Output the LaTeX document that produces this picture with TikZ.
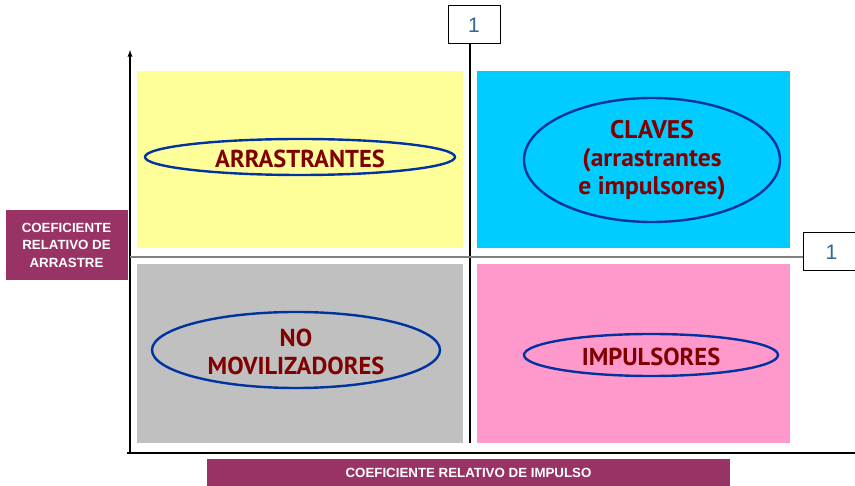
\documentclass[tikz,border=0pt]{standalone}
\usepackage{fontspec}
\setmainfont{Liberation Sans}
\newfontfamily\ellfont{PT Sans}
\definecolor{plum}{HTML}{993366}
\definecolor{ylw}{HTML}{FFFF99}
\definecolor{cyn}{HTML}{00CCFF}
\definecolor{gry}{HTML}{C0C0C0}
\definecolor{pnk}{HTML}{FF99CC}
\definecolor{ellblue}{HTML}{0033A0}
\definecolor{darkred}{HTML}{800000}
\definecolor{numblue}{HTML}{336699}
\begin{document}
\begin{tikzpicture}[x=1pt,y=-1pt,
  etext/.style={text=darkred,font=\ellfont\bfseries\fontsize{24.5}{27.5}\selectfont,align=center},
  numbox/.style={draw=black,line width=1pt,fill=white,text=numblue,font=\fontsize{21}{24}\selectfont,inner sep=0pt},
  lbl/.style={fill=plum,text=white,font=\bfseries\fontsize{13.3}{17.5}\selectfont,align=center,inner sep=0pt},
  ellline/.style={ellblue,line width=2.4pt}]
\useasboundingbox (0,0) rectangle (855,486);
% quadrants
\fill[ylw] (137,71) rectangle (463,248);
\fill[cyn] (477,71) rectangle (790,248);
\fill[gry] (137,264) rectangle (463,443);
\fill[pnk] (477,264) rectangle (790,443);
% number boxes
\node[numbox,minimum width=52pt,minimum height=38pt] (n1) at (474,25) {1};
\node[numbox,minimum width=56pt,minimum height=38pt,anchor=west] (n2) at (803,252) {1};
% axes
\coordinate (yb) at (130,453);
\coordinate (yt) at (130,50);
\coordinate (xl) at (127,453);
\coordinate (xr) at (855,453);
\draw[line width=1.3pt,-latex] (yb) -- (yt);
\draw[line width=1.3pt] (xl) -- (xr);
\coordinate (vb) at (470,443);
\draw[line width=1.3pt] (n1.south -| vb) -- (vb);
\coordinate (hl) at (130,257);
\draw[line width=2pt,gray] (hl) -- (hl -| n2.west);
% ellipses
\draw[ellline] (300,157) ellipse [x radius=155, y radius=18];
\node[etext] (a) at (300,159) {ARRASTRANTES};
\draw[ellline] (652,160) ellipse [x radius=128, y radius=62];
\node[etext,font=\ellfont\bfseries\fontsize{25.5}{28}\selectfont] (c) at (652,160) {CLAVES\\(arrastrantes\\e impulsores)};
\draw[ellline] (296,350) ellipse [x radius=144, y radius=38];
\node[etext] (nm) at (296,352) {NO\\MOVILIZADORES};
\draw[ellline] (651,355) ellipse [x radius=127, y radius=21];
\node[etext] (i) at (651,357) {IMPULSORES};
% labels
\node[lbl,minimum width=122pt,minimum height=70pt] (ly) at (66.5,245) {COEFICIENTE\\RELATIVO DE\\ARRASTRE};
\node[lbl,minimum width=523pt,minimum height=28pt] (lx) at (468.5,473) {COEFICIENTE RELATIVO DE IMPULSO};
\end{tikzpicture}
\end{document}
